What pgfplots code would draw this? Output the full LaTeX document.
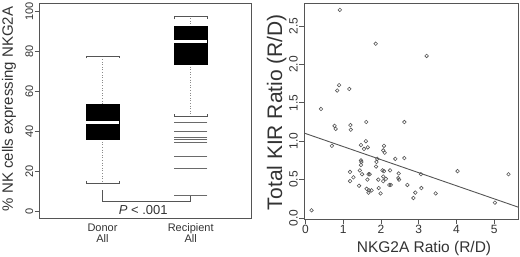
\documentclass[border=0pt]{standalone}
\usepackage{fontspec}
\setmainfont{Liberation Sans}
\usepackage{pgfplots}
\usepackage{pgfplotstable}
\pgfplotsset{compat=1.18}
\definecolor{txt}{HTML}{333333}
\definecolor{ln}{HTML}{555555}
\definecolor{ptc}{HTML}{555555}
\definecolor{olc}{HTML}{6A6A6A}
\definecolor{wsk}{HTML}{8A8A8A}

\pgfplotstableread{
x y
0.91 2.71
1.86 2.27
3.21 2.11
0.89 1.73
0.84 1.66
1.16 1.68
0.41 1.42
0.77 1.20
0.80 1.16
1.19 1.21
1.20 1.15
1.61 1.25
2.62 1.25
0.70 0.94
1.47 0.95
1.60 1.00
1.55 0.90
1.65 0.92
2.08 0.94
2.06 0.88
2.10 0.85
2.38 0.77
2.62 0.78
1.47 0.75
1.48 0.73
1.47 0.69
1.90 0.77
1.88 0.73
1.87 0.67
1.44 0.62
1.50 0.57
1.18 0.60
1.27 0.53
1.18 0.48
1.70 0.57
1.64 0.50
1.67 0.57
2.04 0.62
2.08 0.61
2.06 0.54
2.06 0.48
2.13 0.51
2.24 0.62
2.47 0.58
2.46 0.52
2.48 0.50
1.93 0.50
1.42 0.42
1.62 0.38
1.68 0.36
1.75 0.36
1.67 0.33
1.94 0.39
1.99 0.32
2.22 0.43
2.26 0.43
2.70 0.43
2.91 0.33
2.86 0.26
3.06 0.57
3.07 0.39
3.45 0.32
4.03 0.61
5.02 0.20
5.38 0.57
0.16 0.10
}\kirdata

\begin{document}
\begin{tikzpicture}[x=1pt,y=1pt]
\useasboundingbox (0,0) rectangle (520,257);
% ---------------- left: boxplot ----------------
\begin{axis}[
  at={(39.5pt,38.3pt)}, anchor=south west,
  scale only axis, width=212.2pt, height=215.4pt,
  xmin=0.286, xmax=2.69, ymin=-3.86, ymax=104,
  axis line style={ln, line width=0.8pt},
  xtick=\empty, ytick={0,20,...,100}, ytick pos=left,
  tick align=outside, major tick length=5pt,
  tick style={ln, line width=0.8pt},
  /pgf/number format/assume math mode=true,
  yticklabel style={rotate=90, anchor=south, font=\fontsize{11}{13}\selectfont, text=txt, inner sep=1pt},
  clip=false,
]
% donor
\addplot[wsk, dash pattern=on 0.8pt off 1.8pt, line width=0.7pt] coordinates {(1,53.6) (1,77.6)};
\addplot[wsk, dash pattern=on 0.8pt off 1.8pt, line width=0.7pt] coordinates {(1,35.9) (1,13.9)};
\addplot[fill=black, draw=black] coordinates {(0.813,35.9) (1.187,35.9) (1.187,53.6) (0.813,53.6)} -- cycle;
\addplot[white, line width=2.6pt] coordinates {(0.813,44.2) (1.187,44.2)};
\addplot[ln, line width=1pt] coordinates {(0.813,76.4) (0.813,77.6) (1.187,77.6) (1.187,76.4)};
\addplot[ln, line width=1pt] coordinates {(0.813,15.1) (0.813,13.9) (1.187,13.9) (1.187,15.1)};
% recipient
\addplot[wsk, dash pattern=on 0.8pt off 1.8pt, line width=0.7pt] coordinates {(2,92.3) (2,97.2)};
\addplot[wsk, dash pattern=on 0.8pt off 1.8pt, line width=0.7pt] coordinates {(2,73.6) (2,47.2)};
\addplot[fill=black, draw=black] coordinates {(1.813,73.6) (2.187,73.6) (2.187,92.3) (1.813,92.3)} -- cycle;
\addplot[white, line width=2.6pt] coordinates {(1.813,84.8) (2.187,84.8)};
\addplot[ln, line width=1pt] coordinates {(1.813,96.0) (1.813,97.2) (2.187,97.2) (2.187,96.0)};
\addplot[ln, line width=1pt] coordinates {(1.813,48.4) (1.813,47.2) (2.187,47.2) (2.187,48.4)};
\addplot[only marks, mark=-, mark size=16.5pt, mark options={olc, line width=1pt}] coordinates {
  (2,44.4) (2,39.7) (2,36.7) (2,35.6) (2,34.3) (2,27.2) (2,21.2) (2,7.9)};
% bracket
\addplot[ln, line width=0.8pt] coordinates {(1,10.5) (1,4.65) (2,4.65) (2,7.9)};
\end{axis}
% ---------------- right: scatter ----------------
\begin{axis}[
  at={(304pt,38pt)}, anchor=south west,
  scale only axis, width=214.3pt, height=216pt,
  xmin=-0.04, xmax=5.64, ymin=-0.013, ymax=2.80,
  axis line style={ln, line width=0.8pt},
  xtick={0,1,2,3,4,5}, ytick={0,0.5,1,1.5,2,2.5},
  xtick pos=bottom, ytick pos=left,
  tick align=outside, major tick length=5pt,
  tick style={ln, line width=0.8pt},
  /pgf/number format/assume math mode=true,
  yticklabel style={rotate=90, anchor=south, font=\fontsize{12}{14}\selectfont, text=txt, inner sep=1pt,
    /pgf/number format/.cd, fixed, fixed zerofill, precision=1},
  xticklabel style={font=\fontsize{12}{14}\selectfont, text=txt, inner sep=1pt},
]
\addplot[only marks, mark=o, mark size=1.8pt, mark options={ptc, line width=0.6pt}] table[x=x,y=y] {\kirdata};
\addplot[ln, line width=0.9pt] coordinates {(-0.04,1.107) (5.64,0.141)};
\end{axis}
% ---------------- labels ----------------
\node[rotate=90, font=\fontsize{15}{18}\selectfont, text=txt] at (9,148) {\% NK cells expressing NKG2A};
\node[align=center, font=\fontsize{11}{11}\selectfont, text=txt] at (102.5,23.5) {Donor\\All};
\node[align=center, font=\fontsize{11}{11}\selectfont, text=txt] at (190.7,23.5) {Recipient\\All};
\node[font=\fontsize{13}{15}\selectfont, text=txt] at (143.3,47) {\textit{P} < .001};
\node[font=\fontsize{15.5}{18}\selectfont, text=txt] at (424,9) {NKG2A Ratio (R/D)};
\node[rotate=90, font=\fontsize{21}{24}\selectfont, text=txt] at (276.7,145) {Total KIR Ratio (R/D)};
\end{tikzpicture}
\end{document}
